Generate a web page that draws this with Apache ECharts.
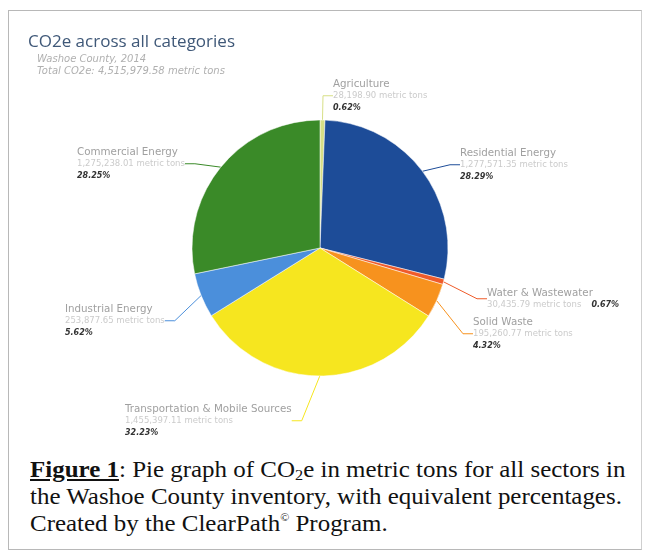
<!DOCTYPE html>
<html><head><meta charset="utf-8">
<script src="https://cdn.jsdelivr.net/npm/echarts@6/dist/echarts.min.js"></script>
<style>
html,body{margin:0;padding:0;background:#fff;}
#frame{position:absolute;left:8px;top:10px;width:634px;height:540px;border:1px solid #b8b8b8;border-right-color:#cfcfcf;box-sizing:border-box;}
#chart{position:absolute;left:0;top:0;width:647px;height:455px;}
#cap{position:absolute;left:30px;top:456px;white-space:nowrap;font-family:"Liberation Serif","Times New Roman",serif;font-size:23px;line-height:27px;color:#111;transform:scaleX(1.085);transform-origin:0 0;}
#cap sub{font-size:15px;vertical-align:-3px;line-height:0;}
#cap sup{font-size:11px;vertical-align:10px;line-height:0;}
</style></head>
<body>
<div id="frame"></div>
<div id="chart"></div>
<div id="cap"><u><b>Figure 1</b></u>: Pie graph of CO<sub>2</sub>e in metric tons for all sectors in<br>the Washoe County inventory, with equivalent percentages.<br>Created by the ClearPath<sup>©</sup> Program.</div>
<script>
const categories = ["Agriculture","Residential Energy","Water & Wastewater","Solid Waste","Transportation & Mobile Sources","Industrial Energy","Commercial Energy"];
const values = [28198.90, 1277571.35, 30435.79, 195260.77, 1455397.11, 253877.65, 1275238.01];
const percents = ["0.62%","28.29%","0.67%","4.32%","32.23%","5.62%","28.25%"];
const colors = ["#d7df86","#1d4c98","#ef5b2a","#f7921e","#f6e61f","#4b8fdb","#3a8a28"];
const titleText = "CO2e across all categories";
const subLine1 = "Washoe County, 2014";
const subLine2 = "Total CO2e: 4,515,979.58 metric tons";

const labelPos = [
  {x:333,y:79},{x:460,y:148},{x:487,y:288},{x:473,y:317},
  {x:125,y:404},{x:65,y:304},{x:77,y:147}
];
function fmt(v){return v.toLocaleString('en-US',{minimumFractionDigits:2,maximumFractionDigits:2});}

const chart = echarts.init(document.getElementById('chart'));
chart.setOption({
  animation:false,
  title:[
    {text:titleText,left:23,top:29,
     textStyle:{fontFamily:"Open Sans",fontSize:17,fontWeight:'normal',color:'#3f5878'}},
    {text:subLine1+'\n'+subLine2,left:32,top:48,
     textStyle:{fontFamily:"DejaVu Sans",fontSize:10,fontStyle:'italic',fontWeight:'normal',color:'#b0b0b0',lineHeight:12}}
  ],
  series:[{
    type:'pie',
    center:[320,248],
    radius:[0,128],
    startAngle:90,
    clockwise:true,
    data:categories.map((c,i)=>({name:c,value:values[i],itemStyle:{color:colors[i]}})),
    itemStyle:{borderColor:'#fff',borderWidth:0.5},
    label:{
      formatter:function(p){
        const i=p.dataIndex;
        if(i===2) return '{n|'+p.name+'}\n{v|'+fmt(p.value)+' metric tons}{q|'+percents[i]+'}';
        return '{n|'+p.name+'}\n{v|'+fmt(p.value)+' metric tons}\n{p|'+percents[i]+'}';
      },
      rich:{
        n:{fontFamily:"DejaVu Sans",fontSize:10.3,color:'#a0a0a0',lineHeight:11},
        v:{fontFamily:"DejaVu Sans",fontSize:8.5,color:'#cbcbcb',lineHeight:11},
        p:{fontFamily:"DejaVu Sans",fontSize:8,color:'#333',fontWeight:'bold',fontStyle:'italic',lineHeight:14},
        q:{fontFamily:"DejaVu Sans",fontSize:8,color:'#333',fontWeight:'bold',fontStyle:'italic',lineHeight:11,padding:[0,0,0,10]}
      }
    },
    labelLine:{show:true,length:12,length2:10,lineStyle:{width:1}},
    labelLayout:function(params){
      const p=labelPos[params.dataIndex];
      return {x:p.x,y:p.y,align:'left',verticalAlign:'top'};
    }
  }]
});
</script>
</body></html>
